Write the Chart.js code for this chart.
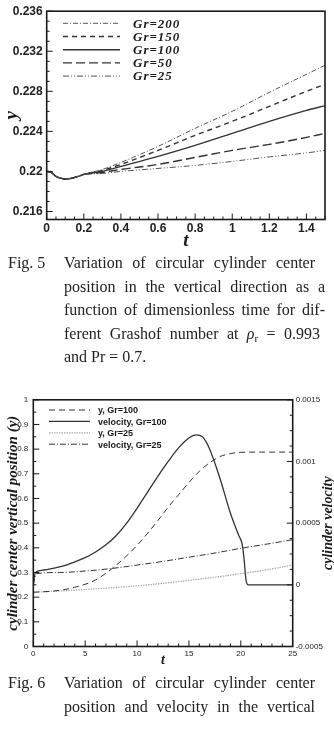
<!DOCTYPE html>
<html>
<head>
<meta charset="utf-8">
<script src="https://cdn.jsdelivr.net/npm/chart.js@4.4.1/dist/chart.umd.min.js"></script>
<style>
  body { margin: 0; width: 334px; height: 730px; position: relative; background: #fff; overflow: hidden; }
  canvas { position: absolute; left: 0; }
  .cap { position: absolute; left: 0; width: 334px; font: 16px/23.5px "Liberation Serif", serif; color: #222; }
  .cap .fig { position: absolute; left: 8px; top: 0; }
  .cap .ln { margin-left: 64px; text-align: justify; text-align-last: justify; white-space: nowrap; }
  .cap .ln.last { text-align-last: left; }
  .cap sub { font-size: 11px; vertical-align: -3px; line-height: 0; }
</style>
</head>
<body>
<canvas id="c1" width="334" height="252" style="top:0"></canvas>
<div class="cap" style="top:251px">
  <div class="fig">Fig. 5</div>
  <div class="ln" style="width:251px">Variation of circular cylinder center</div>
  <div class="ln" style="width:261px">position in the vertical direction as a</div>
  <div class="ln" style="width:261px">function of dimensionless time for dif-</div>
  <div class="ln" style="width:256px">ferent Grashof number at <i>ρ</i><sub>r</sub> = 0.993</div>
  <div class="ln last" style="width:256px">and Pr = 0.7.</div>
</div>
<canvas id="c2" width="334" height="279" style="top:390px"></canvas>
<div class="cap" style="top:671px">
  <div class="fig">Fig. 6</div>
  <div class="ln" style="width:251px">Variation of circular cylinder center</div>
  <div class="ln" style="width:251px">position and velocity in the vertical</div>
</div>
<script>
// ---- Fig. 5 : y vs t for several Gr ----
const t5 = [0, 0.02, 0.05, 0.08, 0.1, 0.13, 0.17, 0.2, 0.3, 0.4, 0.6, 0.8, 1.0, 1.2, 1.4, 1.5];
const gr200 = [0.2200, 0.21995, 0.2195, 0.2193, 0.21925, 0.2193, 0.2195, 0.2197, 0.2202, 0.2209, 0.2225, 0.2243, 0.2260, 0.2279, 0.2297, 0.2306];
const gr150 = [0.2200, 0.21995, 0.2195, 0.2193, 0.21925, 0.2193, 0.2195, 0.2197, 0.2201, 0.2207, 0.2221, 0.2236, 0.2250, 0.2265, 0.2280, 0.2287];
const gr100 = [0.2200, 0.21995, 0.2195, 0.2193, 0.21925, 0.2193, 0.2195, 0.2197, 0.2200, 0.2205, 0.2215, 0.2226, 0.2238, 0.2250, 0.2261, 0.22655];
const gr50  = [0.2200, 0.21995, 0.2195, 0.2193, 0.21925, 0.2193, 0.2195, 0.2197, 0.2199, 0.2202, 0.2207, 0.2214, 0.2221, 0.2227, 0.2234, 0.2238];
const gr25  = [0.2200, 0.21995, 0.2195, 0.2193, 0.21925, 0.2193, 0.2195, 0.2197, 0.2198, 0.2200, 0.2203, 0.2206, 0.2210, 0.22145, 0.22185, 0.2221];
const fig5Labels = ['Gr=200', 'Gr=150', 'Gr=100', 'Gr=50', 'Gr=25'];
const fig5XTicks = [0, 0.2, 0.4, 0.6, 0.8, 1, 1.2, 1.4];
const fig5YTicks = [0.216, 0.22, 0.224, 0.228, 0.232, 0.236];

// ---- Fig. 6 : position (left axis) and velocity (right axis) ----
const tPos100 = [0, 2, 4, 6, 8, 10, 12, 13, 14, 15, 16, 17, 18, 19, 20, 22, 25];
const pos100  = [0.22, 0.225, 0.24, 0.27, 0.33, 0.41, 0.51, 0.565, 0.615, 0.665, 0.71, 0.745, 0.77, 0.782, 0.787, 0.788, 0.788];
const tVel100 = [0, 0.2, 1, 2, 3, 4, 5, 6, 7, 8, 9, 10, 11, 12, 13, 14, 15, 15.7, 16.3, 17, 18, 19, 19.8, 20.1, 20.3, 20.5, 20.7, 25];
const vel100  = [0.00001, 0.0001, 0.00012, 0.000136, 0.000156, 0.000186, 0.00022, 0.000266, 0.000324, 0.0004, 0.0005, 0.00062, 0.00075, 0.00088, 0.001, 0.00111, 0.00119, 0.001216, 0.0012, 0.0011, 0.00086, 0.00058, 0.0004, 0.00034, 0.00022, 0.00004, 0, 0];
const tPos25  = [0, 2.5, 5, 7.5, 10, 12.5, 15, 17.5, 20, 22.5, 25];
const pos25   = [0.22, 0.225, 0.231, 0.238, 0.246, 0.256, 0.268, 0.281, 0.295, 0.311, 0.33];
const tVel25  = [0, 0.3, 2.5, 5, 7.5, 10, 12.5, 15, 17.5, 20, 22.5, 25];
const vel25   = [0, 0.00009, 0.0001, 0.000112, 0.000132, 0.00016, 0.00019, 0.000224, 0.000258, 0.000296, 0.00033, 0.000366];
const fig6Labels = ['y, Gr=100', 'velocity, Gr=100', 'y, Gr=25', 'velocity, Gr=25'];
const fig6XTicks = [0, 5, 10, 15, 20, 25];
const fig6YTicks = [0, 0.1, 0.2, 0.3, 0.4, 0.5, 0.6, 0.7, 0.8, 0.9, 1];
const fig6VTicks = [-0.0005, 0, 0.0005, 0.001, 0.0015];

const pts = (xs, ys) => xs.map((x, i) => ({x: x, y: ys[i]}));
const setTicks = arr => (s => { s.ticks = arr.map(v => ({value: v})); });

// frame + inward ticks (major and minor), optional right title read bottom-to-top
const frameTicks = {
  id: 'frameTicks',
  afterDatasetsDraw(chart, args, opts) {
    const ctx = chart.ctx, a = chart.chartArea;
    ctx.save();
    ctx.strokeStyle = '#1a1a1a';
    ctx.lineWidth = 1.6;
    ctx.strokeRect(a.left, a.top, a.right - a.left, a.bottom - a.top);
    ctx.lineWidth = 1;
    opts.axes.forEach(ax => {
      const s = chart.scales[ax.id];
      const majors = s.ticks.map(t => t.value);
      const i0 = Math.ceil(s.min / ax.minor - 1e-6), i1 = Math.floor(s.max / ax.minor + 1e-6);
      for (let i = i0; i <= i1; i++) {
        const v = i * ax.minor;
        const len = majors.some(m => Math.abs(m - v) < ax.minor / 10) ? 6 : 3;
        const p = s.getPixelForValue(v);
        ctx.beginPath();
        if (ax.side === 'bottom') { ctx.moveTo(p, a.bottom); ctx.lineTo(p, a.bottom - len); }
        else if (ax.side === 'left') { ctx.moveTo(a.left, p); ctx.lineTo(a.left + len, p); }
        else { ctx.moveTo(a.right, p); ctx.lineTo(a.right - len, p); }
        ctx.stroke();
      }
    });
    if (opts.rightTitle) {
      ctx.translate(opts.rightTitle.x, (a.top + a.bottom) / 2);
      ctx.rotate(-Math.PI / 2);
      ctx.fillStyle = '#1a1a1a';
      ctx.font = opts.rightTitle.font;
      ctx.textAlign = 'center';
      ctx.textBaseline = 'middle';
      ctx.fillText(opts.rightTitle.text, 0, 0);
    }
    ctx.restore();
  }
};

// legend drawn inside the plot
const inLegend = {
  id: 'inLegend',
  afterDatasetsDraw(chart, args, o) {
    const ctx = chart.ctx;
    ctx.save();
    chart.data.datasets.forEach((ds, i) => {
      const y = o.y0 + i * o.dy;
      ctx.strokeStyle = ds.borderColor;
      ctx.lineWidth = ds.borderWidth;
      ctx.setLineDash(ds.borderDash || []);
      ctx.beginPath(); ctx.moveTo(o.x1, y); ctx.lineTo(o.x2, y); ctx.stroke();
      ctx.setLineDash([]);
      ctx.fillStyle = '#1a1a1a';
      ctx.font = o.font;
      ctx.textBaseline = 'middle';
      if ('letterSpacing' in ctx) ctx.letterSpacing = o.spacing || '0px';
      ctx.fillText(ds.label, o.tx, y + 1);
    });
    ctx.restore();
  }
};

const tickFont5 = {family: 'Liberation Sans', size: 12, weight: 'bold'};
const titleFont = size => ({family: 'Liberation Serif', size: size, style: 'italic', weight: 'bold'});

new Chart(document.getElementById('c1'), {
  type: 'line',
  data: {
    datasets: [
      {label: fig5Labels[0], data: pts(t5, gr200), borderColor: '#555', borderWidth: 1, borderDash: [5, 2, 1, 2]},
      {label: fig5Labels[1], data: pts(t5, gr150), borderColor: '#333', borderWidth: 1.4, borderDash: [5, 4]},
      {label: fig5Labels[2], data: pts(t5, gr100), borderColor: '#333', borderWidth: 1.4, borderDash: []},
      {label: fig5Labels[3], data: pts(t5, gr50), borderColor: '#333', borderWidth: 1.4, borderDash: [9, 4]},
      {label: fig5Labels[4], data: pts(t5, gr25), borderColor: '#555', borderWidth: 1, borderDash: [6, 2, 1, 2, 1, 2]}
    ]
  },
  options: {
    responsive: false, animation: false, events: [],
    layout: {padding: {top: 7.5, right: 9, left: 0, bottom: 0}},
    elements: {point: {radius: 0}, line: {cubicInterpolationMode: 'monotone', fill: false}},
    plugins: {
      legend: {display: false}, tooltip: {enabled: false},
      frameTicks: {axes: [{id: 'x', side: 'bottom', minor: 0.05}, {id: 'y', side: 'left', minor: 0.001}]},
      inLegend: {x1: 63, x2: 120, tx: 133, y0: 23.3, dy: 13.2, font: 'italic bold 13px "Liberation Serif"', spacing: '1px'}
    },
    scales: {
      x: {
        type: 'linear', min: 0, max: 1.5,
        afterBuildTicks: setTicks(fig5XTicks),
        afterFit: s => { s.height = 32.5; },
        grid: {display: false, drawTicks: false}, border: {display: false},
        ticks: {padding: 2, color: '#222', font: tickFont5, maxRotation: 0, autoSkip: false, callback: v => String(v)},
        title: {display: true, text: 't', padding: 0, color: '#1a1a1a', font: titleFont(19)}
      },
      y: {
        type: 'linear', min: 0.2152, max: 0.236,
        afterBuildTicks: setTicks(fig5YTicks),
        afterFit: s => { s.width = 46.7; },
        grid: {display: false, drawTicks: false}, border: {display: false},
        ticks: {padding: 4, color: '#222', font: tickFont5, autoSkip: false, callback: v => String(v)},
        title: {display: true, text: 'y', padding: 1, color: '#1a1a1a', font: titleFont(19)}
      }
    }
  },
  plugins: [frameTicks, inLegend]
});

const tickFont6 = {family: 'Liberation Sans', size: 8};

new Chart(document.getElementById('c2'), {
  type: 'line',
  data: {
    datasets: [
      {label: fig6Labels[0], data: pts(tPos100, pos100), yAxisID: 'y', borderColor: '#333', borderWidth: 1, borderDash: [6, 4]},
      {label: fig6Labels[1], data: pts(tVel100, vel100), yAxisID: 'y1', borderColor: '#333', borderWidth: 1.3, borderDash: []},
      {label: fig6Labels[2], data: pts(tPos25, pos25), yAxisID: 'y', borderColor: '#aaa', borderWidth: 1.2, borderDash: [1.5, 1]},
      {label: fig6Labels[3], data: pts(tVel25, vel25), yAxisID: 'y1', borderColor: '#333', borderWidth: 1, borderDash: [6, 2, 1, 2]}
    ]
  },
  options: {
    responsive: false, animation: false, events: [],
    layout: {padding: {top: 8.5, right: 0, left: 0, bottom: 0}},
    elements: {point: {radius: 0}, line: {cubicInterpolationMode: 'monotone', fill: false}},
    plugins: {
      legend: {display: false}, tooltip: {enabled: false},
      frameTicks: {
        axes: [{id: 'x', side: 'bottom', minor: 1}, {id: 'y', side: 'left', minor: 0.05}, {id: 'y1', side: 'right', minor: 0.000125}],
        rightTitle: {text: 'cylinder velocity', x: 328, font: 'italic bold 14px "Liberation Serif"'}
      },
      inLegend: {x1: 49, x2: 90, tx: 98, y0: 20, dy: 11.4, font: 'bold 9px "Liberation Sans"'}
    },
    scales: {
      x: {
        type: 'linear', min: 0, max: 25,
        afterBuildTicks: setTicks(fig6XTicks),
        afterFit: s => { s.height = 22.5; },
        grid: {display: false, drawTicks: false}, border: {display: false},
        ticks: {padding: 2, color: '#222', font: tickFont6, maxRotation: 0, autoSkip: false, callback: v => String(v)},
        title: {display: true, text: 't', padding: 0, color: '#1a1a1a', font: titleFont(14)}
      },
      y: {
        type: 'linear', position: 'left', min: 0, max: 1,
        afterBuildTicks: setTicks(fig6YTicks),
        afterFit: s => { s.width = 33.3; },
        grid: {display: false, drawTicks: false}, border: {display: false},
        ticks: {padding: 5, color: '#222', font: tickFont6, autoSkip: false, callback: v => String(v)},
        title: {display: true, text: 'cylinder center vertical position (y)', padding: 4, color: '#1a1a1a', font: titleFont(15)}
      },
      y1: {
        type: 'linear', position: 'right', min: -0.0005, max: 0.0015,
        afterBuildTicks: setTicks(fig6VTicks),
        afterFit: s => { s.width = 41.3; },
        grid: {display: false, drawTicks: false}, border: {display: false},
        ticks: {padding: 3, color: '#222', font: {family: 'Liberation Sans', size: 8}, autoSkip: false, callback: v => String(v)}
      }
    }
  },
  plugins: [frameTicks, inLegend]
});
</script>
</body>
</html>
